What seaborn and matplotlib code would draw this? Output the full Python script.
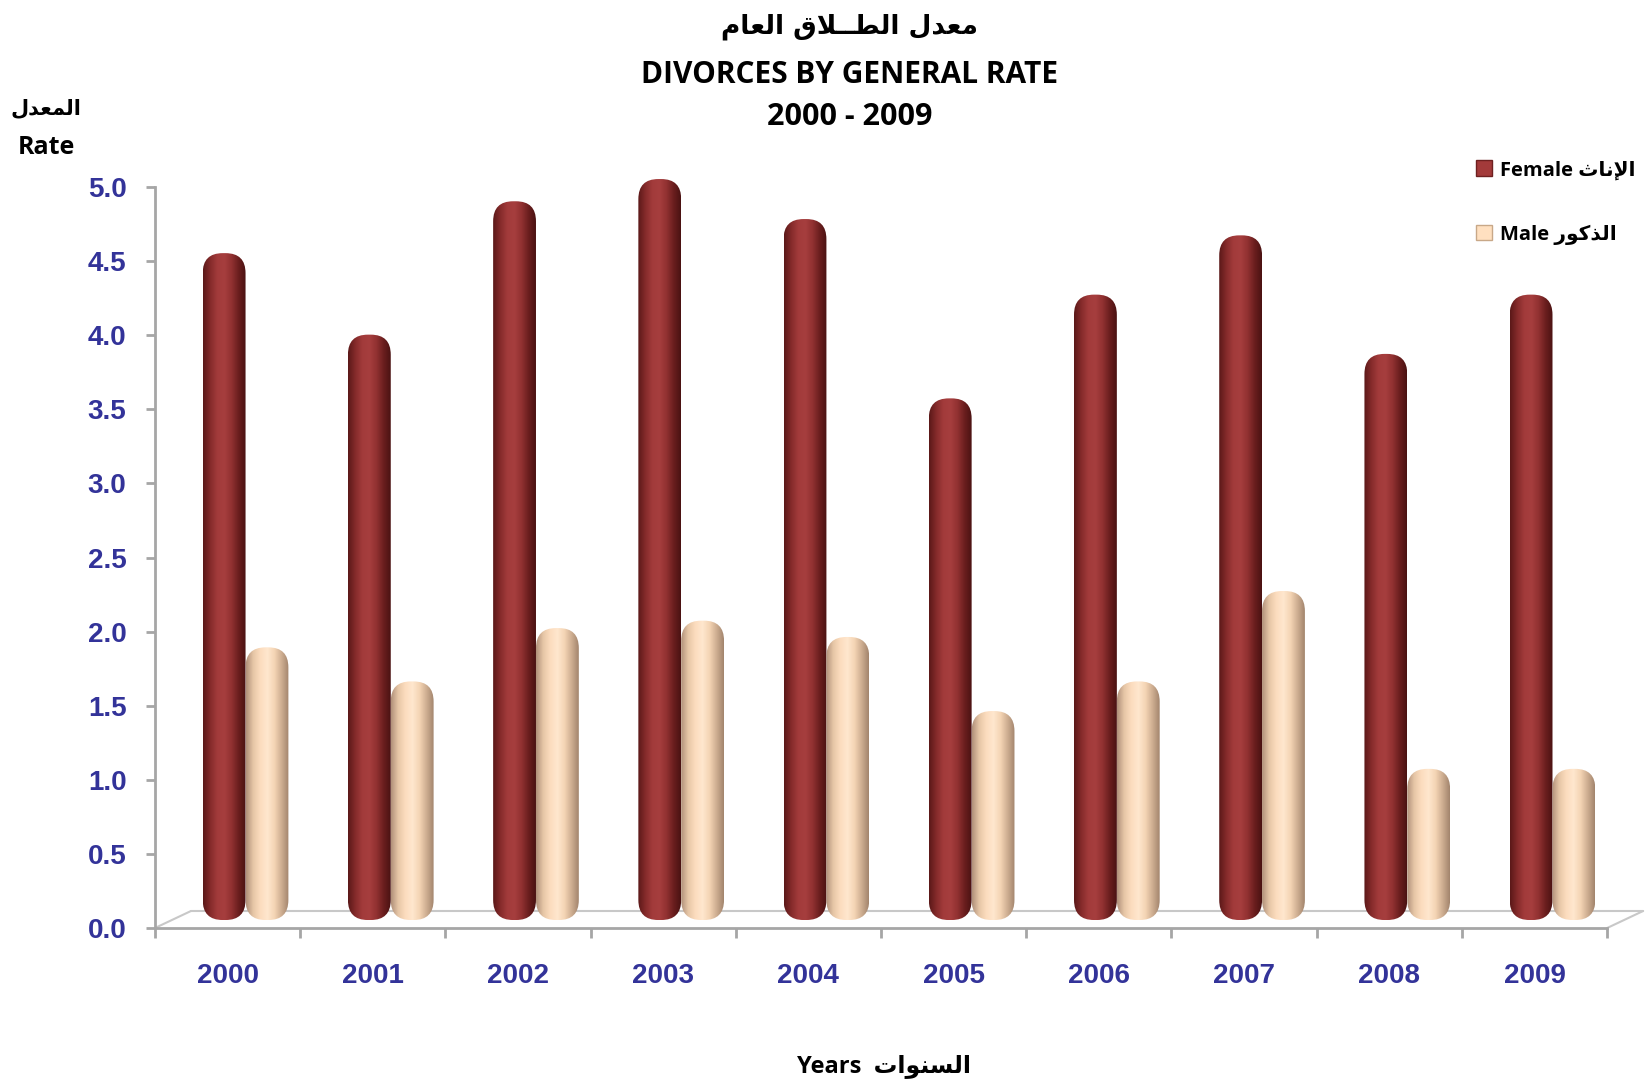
import numpy as np
import pandas as pd
import matplotlib
matplotlib.use("Agg")
import matplotlib.pyplot as plt
import matplotlib.transforms as mtransforms
from matplotlib.colors import LinearSegmentedColormap
from matplotlib.patches import FancyBboxPatch, Patch
import seaborn as sns

# Data
years = ["2000", "2001", "2002", "2003", "2004", "2005", "2006", "2007", "2008", "2009"]
female = [4.50, 3.95, 4.85, 5.00, 4.73, 3.52, 4.22, 4.62, 3.82, 4.22]
male = [1.84, 1.61, 1.97, 2.02, 1.91, 1.41, 1.61, 2.22, 1.02, 1.02]

# Arabic presentation forms: isolated, final, initial, medial
FORMS = {
    "ا": ("\uFE8D", "\uFE8E", None, None),
    "إ": ("\uFE87", "\uFE88", None, None),
    "ت": ("\uFE95", "\uFE96", "\uFE97", "\uFE98"),
    "ث": ("\uFE99", "\uFE9A", "\uFE9B", "\uFE9C"),
    "د": ("\uFEA9", "\uFEAA", None, None),
    "ذ": ("\uFEAB", "\uFEAC", None, None),
    "ر": ("\uFEAD", "\uFEAE", None, None),
    "س": ("\uFEB1", "\uFEB2", "\uFEB3", "\uFEB4"),
    "ط": ("\uFEC1", "\uFEC2", "\uFEC3", "\uFEC4"),
    "ع": ("\uFEC9", "\uFECA", "\uFECB", "\uFECC"),
    "ق": ("\uFED5", "\uFED6", "\uFED7", "\uFED8"),
    "ك": ("\uFED9", "\uFEDA", "\uFEDB", "\uFEDC"),
    "ل": ("\uFEDD", "\uFEDE", "\uFEDF", "\uFEE0"),
    "م": ("\uFEE1", "\uFEE2", "\uFEE3", "\uFEE4"),
    "ن": ("\uFEE5", "\uFEE6", "\uFEE7", "\uFEE8"),
    "و": ("\uFEED", "\uFEEE", None, None),
    "ـ": ("\u0640", "\u0640", "\u0640", "\u0640"),
}
LAM_ALEF = {"ا": ("\uFEFB", "\uFEFC"), "إ": ("\uFEF9", "\uFEFA")}


def shape_arabic(text):
    """Join Arabic letters into presentation forms and return visual order."""
    tokens = []
    i = 0
    while i < len(text):
        ch = text[i]
        if ch == "ل" and i + 1 < len(text) and text[i + 1] in LAM_ALEF:
            tokens.append(("LA", text[i + 1]))
            i += 2
        else:
            tokens.append(("CH", ch))
            i += 1

    def is_letter(tok):
        return tok[0] == "LA" or tok[1] in FORMS

    def joins_forward(tok):
        return tok[0] == "CH" and tok[1] in FORMS and FORMS[tok[1]][2] is not None

    out = []
    for k, tok in enumerate(tokens):
        if not is_letter(tok):
            out.append(tok[1])
            continue
        jp = k > 0 and is_letter(tokens[k - 1]) and joins_forward(tokens[k - 1])
        jn = joins_forward(tok) and k + 1 < len(tokens) and is_letter(tokens[k + 1])
        if tok[0] == "LA":
            iso, fin = LAM_ALEF[tok[1]]
            out.append(fin if jp else iso)
            continue
        iso, fin, ini, med = FORMS[tok[1]]
        if jp and jn:
            out.append(med)
        elif jp:
            out.append(fin)
        elif jn:
            out.append(ini)
        else:
            out.append(iso)
    return "".join(out)[::-1]


sns.set_style("white")
TXT_FONT = ["Open Sans", "DejaVu Sans"]
plt.rcParams["font.family"] = TXT_FONT
plt.rcParams["text.color"] = "black"

BLUE = "#333399"
GREY = "#A6A6A6"
FEMALE_C = "#A33A3A"
MALE_C = "#FFE0C0"

df = pd.DataFrame({
    "year": years * 2,
    "rate": female + male,
    "sex": ["Female"] * len(years) + ["Male"] * len(years),
})

fig, ax = plt.subplots(figsize=(16.5, 10.83), dpi=100)
fig.subplots_adjust(left=0.0939, right=0.974, bottom=0.1431, top=0.8273)

sns.barplot(data=df, x="year", y="rate", hue="sex", palette=[FEMALE_C, MALE_C],
            width=0.59, ax=ax, legend=False, saturation=1)
ax.set_xlim(-0.5, 9.5)
ax.set_ylim(0, 5)

# 3D-like offset for the bars (depth of the floor)
depth = mtransforms.ScaledTranslation(0.18, 0.08, fig.dpi_scale_trans)
px_x = ax.get_position().width * 1650 / 10
px_y = ax.get_position().height * 1083 / 5
aspect = px_x / px_y

fem_cmap = LinearSegmentedColormap.from_list(
    "fem", ["#5A1818", "#842A2A", "#A23B3B", "#A63E3E", "#913131", "#6A1E1E", "#4A1212"])
mal_cmap = LinearSegmentedColormap.from_list(
    "mal", ["#B0907A", "#E6C6A6", "#FCDCBE", "#FFE7CE", "#F4D4B4", "#CDAD90", "#A2846C"])
grad = np.linspace(0, 1, 256).reshape(1, -1)

bars = [p for p in ax.patches if p.get_height() > 0]
n = len(years)
for idx, patch in enumerate(bars):
    x0, y0 = patch.get_x(), patch.get_y()
    w, h = patch.get_width(), patch.get_height()
    patch.set_visible(False)
    rounded = FancyBboxPatch((x0, y0), w, h,
                             boxstyle=f"round,pad=0,rounding_size={20 / px_x:.4f}",
                             mutation_aspect=aspect, facecolor="none",
                             edgecolor="none", transform=ax.transData + depth,
                             clip_on=False)
    ax.add_patch(rounded)
    im = ax.imshow(grad, cmap=fem_cmap if idx < n else mal_cmap, aspect="auto",
                   extent=(x0, x0 + w, y0, y0 + h), zorder=2,
                   transform=ax.transData + depth)
    im.set_clip_box(fig.bbox)
    im.set_clip_path(rounded)

# Floor of the 3D box
back = mtransforms.ScaledTranslation(0.36, 0.17, fig.dpi_scale_trans)
ax.plot([-0.5, 9.5], [0, 0], color="#C8C8C8", lw=1.5, transform=ax.transData + back,
        clip_on=False, zorder=1)
inv = ax.transData.inverted()
for xe in (-0.5, 9.5):
    a = (xe, 0)
    b = inv.transform((ax.transData + back).transform((xe, 0)))
    ax.plot([a[0], b[0]], [a[1], b[1]], color="#C8C8C8", lw=1.5, clip_on=False, zorder=1)

ax.set_xlim(-0.5, 9.5)
ax.set_ylim(0, 5)

# Axes styling
for side in ("top", "right"):
    ax.spines[side].set_visible(False)
for side in ("left", "bottom"):
    ax.spines[side].set_color(GREY)
    ax.spines[side].set_linewidth(2)

ax.set_yticks(np.arange(0, 5.01, 0.5))
ax.set_yticklabels([f"{v:.1f}" for v in np.arange(0, 5.01, 0.5)])
ax.set_xticks(range(len(years)))
ax.set_xticklabels(years)
ax.set_xticks(np.arange(-0.5, len(years), 1), minor=True)
ax.tick_params(axis="y", length=6.5, width=2, color=GREY, pad=14, left=True)
ax.tick_params(axis="x", which="major", length=0, pad=25)
ax.tick_params(axis="x", which="minor", length=7, width=2, color=GREY, bottom=True)
for lbl in ax.get_xticklabels() + ax.get_yticklabels():
    lbl.set_fontfamily("Liberation Sans")
    lbl.set_fontweight("bold")
    lbl.set_fontsize(20)
    lbl.set_color(BLUE)
ax.set_xlabel("")
ax.set_ylabel("")

# Titles
fig.text(0.515, 1 - 27 / 1083, shape_arabic("معدل الطــلاق العام"), ha="center", va="center",
         fontsize=19, fontweight="bold", family=["DejaVu Sans"])
fig.text(0.515, 1 - 75 / 1083, "DIVORCES BY GENERAL RATE", ha="center", va="center",
         fontsize=21.5, fontweight="bold")
fig.text(0.515, 1 - 117 / 1083, "2000 - 2009", ha="center", va="center",
         fontsize=22, fontweight="bold")

# Axis captions
fig.text(46 / 1650, 1 - 108 / 1083, shape_arabic("المعدل"), ha="center", va="center",
         fontsize=15, fontweight="bold", family=["DejaVu Sans"])
fig.text(46 / 1650, 1 - 147 / 1083, "Rate", ha="center", va="center",
         fontsize=18, fontweight="bold")
fig.text(884 / 1650, 1 - 1066 / 1083, "Years  " + shape_arabic("السنوات"), ha="center",
         va="center", fontsize=17, fontweight="bold")

# Legend
handles = [Patch(facecolor=FEMALE_C, edgecolor="#6E2020"),
           Patch(facecolor=MALE_C, edgecolor="#C8A888")]
labels = ["Female " + shape_arabic("الإناث"), "Male " + shape_arabic("الذكور")]
fig.legend(handles, labels, loc="upper left", bbox_to_anchor=(1458 / 1650, 1 - 142 / 1083),
           frameon=False, prop={"family": TXT_FONT, "weight": "bold", "size": 14.5},
           handlelength=0.8, handleheight=0.8, handletextpad=0.4, labelspacing=2.2)

fig.savefig("out.png", dpi=100)
